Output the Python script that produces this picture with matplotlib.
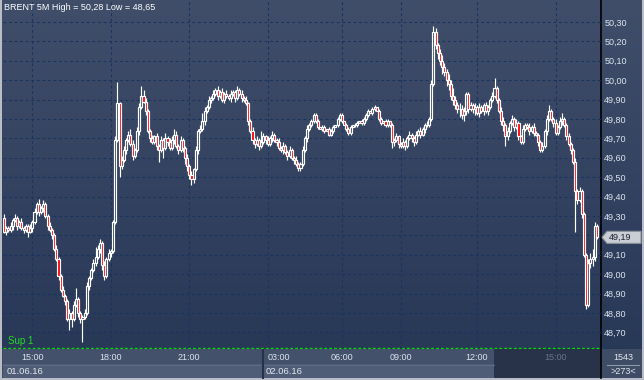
import numpy as np
import matplotlib.pyplot as plt
from matplotlib.colors import LinearSegmentedColormap
from matplotlib.patches import Rectangle, Polygon

# ---- data: BRENT 5 minute candles (close price, open = previous close) ----
first_open = 49.29
close = [
    49.22, 49.24, 49.23, 49.25, 49.28, 49.29, 49.25, 49.27, 49.24, 49.23, 49.25, 49.22, 49.24, 49.27, 49.32, 49.36, 49.32, 49.34, 49.36, 49.30,
    49.25, 49.23, 49.20, 49.13, 49.08, 48.99, 48.92, 48.89, 48.86, 48.77, 48.80, 48.77, 48.84, 48.87, 48.80, 48.77, 48.78, 48.80, 48.94, 48.98,
    49.02, 49.06, 49.09, 49.13, 49.16, 49.05, 48.99, 49.08, 49.11, 49.12, 49.27, 49.69, 49.88, 49.56, 49.59, 49.64, 49.69, 49.72, 49.67, 49.61,
    49.64, 49.74, 49.86, 49.92, 49.89, 49.84, 49.74, 49.70, 49.68, 49.71, 49.66, 49.64, 49.69, 49.65, 49.70, 49.68, 49.65, 49.69, 49.72, 49.66,
    49.64, 49.69, 49.65, 49.60, 49.56, 49.51, 49.49, 49.54, 49.64, 49.74, 49.75, 49.79, 49.84, 49.86, 49.90, 49.91, 49.93, 49.95, 49.92, 49.94,
    49.90, 49.93, 49.92, 49.91, 49.93, 49.94, 49.91, 49.95, 49.93, 49.91, 49.90, 49.88, 49.79, 49.74, 49.69, 49.67, 49.69, 49.66, 49.68, 49.71,
    49.69, 49.67, 49.70, 49.72, 49.69, 49.68, 49.65, 49.64, 49.66, 49.63, 49.61, 49.64, 49.60, 49.59, 49.57, 49.55, 49.57, 49.64, 49.70, 49.75,
    49.77, 49.79, 49.82, 49.79, 49.76, 49.75, 49.76, 49.74, 49.75, 49.72, 49.74, 49.76, 49.77, 49.80, 49.82, 49.79, 49.77, 49.75, 49.73, 49.76,
    49.77, 49.77, 49.78, 49.79, 49.78, 49.80, 49.82, 49.84, 49.83, 49.85, 49.86, 49.84, 49.80, 49.78, 49.79, 49.77, 49.79, 49.77, 49.68, 49.69,
    49.71, 49.67, 49.66, 49.68, 49.66, 49.70, 49.72, 49.70, 49.68, 49.72, 49.74, 49.72, 49.75, 49.77, 49.77, 49.80, 49.98, 50.25, 50.18, 50.14,
    50.10, 50.07, 50.04, 50.00, 49.98, 49.92, 49.90, 49.87, 49.85, 49.85, 49.82, 49.84, 49.93, 49.85, 49.87, 49.85, 49.86, 49.83, 49.86, 49.84,
    49.87, 49.84, 49.86, 49.90, 49.92, 49.96, 49.90, 49.84, 49.79, 49.77, 49.71, 49.74, 49.78, 49.80, 49.76, 49.78, 49.71, 49.68, 49.75, 49.77,
    49.76, 49.74, 49.76, 49.73, 49.72, 49.68, 49.64, 49.66, 49.74, 49.80, 49.84, 49.80, 49.78, 49.73, 49.76, 49.79, 49.80, 49.77, 49.71, 49.67,
    49.64, 49.58, 49.43, 49.38, 49.43, 49.31, 49.10, 48.84, 49.06, 49.08, 49.09, 49.25, 49.19,
]
# upper / lower shadows in cents above / below the body
wick_up = [
    2, 1, 1, 2, 1, 2, 1, 1, 2, 1, 1, 1, 2, 1, 2, 1, 3, 1, 2, 1,
    1, 2, 1, 1, 2, 1, 1, 2, 1, 1, 2, 1, 2, 6, 1, 1, 1, 2, 2, 1,
    1, 2, 5, 2, 2, 1, 2, 1, 2, 1, 1, 2, 11, 1, 2, 2, 1, 2, 3, 2,
    1, 2, 2, 5, 3, 2, 1, 1, 2, 1, 2, 1, 2, 1, 3, 1, 2, 2, 3, 2,
    1, 2, 1, 1, 2, 1, 2, 1, 2, 1, 2, 4, 2, 1, 2, 1, 2, 1, 2, 1,
    2, 1, 2, 1, 2, 1, 1, 2, 1, 2, 1, 2, 1, 1, 2, 1, 2, 1, 6, 2,
    1, 2, 1, 2, 1, 1, 2, 1, 2, 1, 1, 2, 1, 1, 2, 1, 1, 2, 1, 2,
    1, 1, 1, 1, 1, 0, 1, 1, 0, 1, 1, 1, 0, 1, 1, 1, 0, 1, 1, 1,
    0, 1, 1, 0, 1, 1, 1, 1, 0, 1, 1, 0, 1, 1, 0, 1, 1, 0, 1, 1,
    2, 1, 1, 2, 1, 1, 2, 1, 1, 2, 1, 2, 1, 1, 2, 1, 2, 3, 2, 1,
    2, 3, 2, 2, 3, 2, 4, 2, 2, 3, 2, 2, 1, 1, 2, 1, 2, 1, 2, 1,
    1, 2, 1, 1, 2, 5, 1, 1, 2, 2, 1, 2, 1, 2, 1, 2, 1, 1, 2, 1,
    1, 2, 1, 2, 1, 1, 1, 2, 1, 2, 3, 1, 1, 2, 1, 2, 3, 1, 1, 2,
    1, 1, 2, 1, 2, 1, 1, 1, 2, 3, 4, 2, 1,
]
wick_dn = [
    1, 2, 1, 1, 2, 1, 2, 1, 1, 2, 1, 3, 1, 2, 1, 1, 2, 1, 2, 1,
    2, 1, 2, 1, 1, 2, 1, 1, 2, 1, 6, 4, 1, 1, 2, 2, 12, 1, 1, 2,
    1, 1, 2, 1, 2, 3, 2, 1, 1, 2, 1, 1, 1, 6, 2, 1, 2, 1, 1, 2,
    1, 1, 2, 1, 1, 2, 1, 2, 1, 1, 2, 6, 1, 5, 1, 2, 1, 1, 2, 1,
    2, 1, 2, 3, 3, 2, 3, 2, 1, 2, 1, 1, 2, 1, 1, 2, 1, 1, 2, 1,
    1, 2, 1, 1, 2, 1, 2, 1, 1, 2, 1, 1, 2, 1, 2, 2, 1, 2, 1, 1,
    2, 1, 1, 2, 1, 2, 1, 1, 2, 1, 2, 1, 1, 2, 1, 2, 2, 1, 1, 2,
    1, 1, 1, 1, 1, 0, 1, 1, 0, 1, 1, 1, 0, 1, 1, 1, 0, 1, 1, 1,
    0, 1, 1, 0, 1, 1, 1, 1, 0, 1, 1, 0, 1, 1, 0, 1, 1, 1, 3, 2,
    1, 2, 1, 1, 2, 1, 1, 2, 2, 1, 1, 2, 1, 2, 1, 1, 1, 1, 2, 3,
    2, 4, 2, 3, 3, 2, 3, 2, 2, 4, 2, 3, 2, 2, 1, 2, 3, 1, 2, 1,
    2, 1, 2, 1, 1, 1, 2, 1, 2, 3, 5, 2, 1, 1, 2, 1, 2, 1, 1, 1,
    1, 2, 1, 2, 1, 2, 1, 1, 1, 2, 1, 1, 2, 1, 1, 1, 2, 1, 2, 1,
    2, 1, 21, 2, 1, 2, 1, 2, 1, 3, 4, 2, 1,
]
# time axis: bar index of each labelled time
time_ticks = [13, 49, 85, 121, 155, 182, 217, 253]
time_labels = ['15:00', '18:00', '21:00', '03:00', '06:00', '09:00', '12:00', '15:00']
day_labels = ['01.06.16', '02.06.16']
price_ticks = [48.7, 48.8, 48.9, 49.0, 49.1, 49.2, 49.3, 49.4, 49.5, 49.6, 49.7, 49.8, 49.9, 50.0, 50.1, 50.2, 50.3]
sup1 = 48.62
bars_total = 1543

close = np.array(close)
opn = np.r_[first_open, close[:-1]]
top = np.maximum(opn, close)
bot = np.minimum(opn, close)
high = top + np.array(wick_up) / 100
low = bot - np.array(wick_dn) / 100
idx = np.arange(len(close))
last = close[-1]

def fmt(v):
    return f'{v:.2f}'.replace('.', ',')

plt.rcParams['font.family'] = ['Liberation Sans', 'DejaVu Sans']

W, H = 644, 380
fig = plt.figure(figsize=(W / 100, H / 100), dpi=100)
fig.patch.set_facecolor('#3e4b64')

def px(x, y):
    # pixel position (from top-left) -> figure fraction
    return x / W, 1 - y / H

# background / frame layer in pixel units
bg = fig.add_axes([0, 0, 1, 1])
bg.set_xlim(0, W)
bg.set_ylim(H, 0)
bg.axis('off')
cmap = LinearSegmentedColormap.from_list('bg', ['#404e6a', '#283857'])
bg.imshow(np.linspace(0, 1, 256)[:, None], cmap=cmap, extent=(0, W, 349, 0), aspect='auto')
bg.add_patch(Rectangle((3, 349), 598, 15, color='#43516b', lw=0))
bg.add_patch(Rectangle((3, 364), 598, 14, color='#4f5d77', lw=0))
bg.plot([3, 494], [364.5, 364.5], color='#5d6b84', lw=0.8)
bg.add_patch(Rectangle((494, 349), 107, 29, color='#283249', lw=0))
bg.plot([263, 263], [349, 378], color='#26314a', lw=1.5)
bg.add_patch(Rectangle((602, 349), 42, 29, color='#3f4c66', lw=0))
bg.plot([601.5, 601.5], [0, 378], color='black', lw=1.2)
bg.add_patch(Rectangle((0, 0), 2, H, color='#b8bdc6', lw=0))
bg.add_patch(Rectangle((642, 0), 2, H, color='#b8bdc6', lw=0))
bg.add_patch(Rectangle((0, 378), W, 2, color='#b8bdc6', lw=0))
bg.plot([607, 639], [364.5, 364.5], color='#8c97a8', lw=0.8)

# main chart
ax = fig.add_axes([3 / W, (H - 349) / H, 598 / W, 349 / H])
ax.set_facecolor('none')
ax.set_xlim(-1 / 2.18, 597 / 2.18)
ax.set_ylim(50.30 - 327 / 194, 50.30 + 22 / 194)
for s in ax.spines.values():
    s.set_visible(False)

ax.set_yticks(price_ticks)
# the label nearest the last price is hidden behind the price marker
ax.set_yticklabels(['' if abs(v - last) < 0.05 else fmt(v) for v in price_ticks])
ax.yaxis.tick_right()
ax.set_xticks(time_ticks)
ax.set_xticklabels(time_labels)
ax.tick_params(axis='y', length=0, pad=2.3, labelsize=6.5, labelcolor='#dde4ee')
ax.tick_params(axis='x', length=0, pad=3, labelsize=6.5, labelcolor='#dde4ee')
xl = ax.get_xticklabels()
xl[3].set_horizontalalignment('left')
xl[7].set_color('#6a7487')
ax.grid(True, color='#1a3460', linestyle=(0, (2.5, 2.5)), lw=0.8)
ax.set_axisbelow(True)

ax.axhline(sup1, color='#00e000', linestyle=(0, (2, 1.5)), lw=1)

# candles
ax.vlines(idx, top, high, color='white', lw=0.85, zorder=3)
ax.vlines(idx, low, bot, color='white', lw=0.85, zorder=3)
bull = close >= opn
ax.bar(idx[bull], (top - bot)[bull], bottom=bot[bull], width=0.95,
       facecolor='none', edgecolor='white', lw=0.85, zorder=4)
ax.bar(idx[~bull], (top - bot)[~bull], bottom=bot[~bull], width=0.95,
       facecolor='#ff0000', edgecolor='white', lw=0.85, zorder=4)

bg.set_zorder(0)
ax.set_zorder(1)

# texts drawn above both layers
fig.text(*px(4, 8), f'BRENT 5M High = {fmt(high.max())} Low = {fmt(low.min())}',
         color='white', fontsize=6.5, va='center', ha='left')
fig.text(*px(8, 341), 'Sup 1', color='#22dd22', fontsize=7, va='center', ha='left')
fig.text(*px(7, 371), day_labels[0], color='#e2e8f0', fontsize=6.8, va='center', ha='left')
fig.text(*px(266, 371), day_labels[1], color='#e2e8f0', fontsize=6.8, va='center', ha='left')
fig.text(*px(623, 357), str(bars_total), color='#e2e8f0', fontsize=6.5, va='center', ha='center')
fig.text(*px(623, 371), f'>{len(close)}<', color='#e2e8f0', fontsize=6.5, va='center', ha='center')

# last price marker on the price scale
yp = 22 + (50.30 - last) * 194
fig.patches.append(Polygon([px(602, yp), px(607, yp - 6), px(641, yp - 6), px(641, yp + 6), px(607, yp + 6)],
                           closed=True, facecolor='#c9cdd4', edgecolor='#8d939d', lw=0.8,
                           transform=fig.transFigure, figure=fig, zorder=5))
fig.text(*px(609, yp), fmt(last), color='#1a2230', fontsize=6.5, va='center', ha='left', zorder=6)

fig.savefig('out.png', dpi=100, facecolor=fig.get_facecolor())
